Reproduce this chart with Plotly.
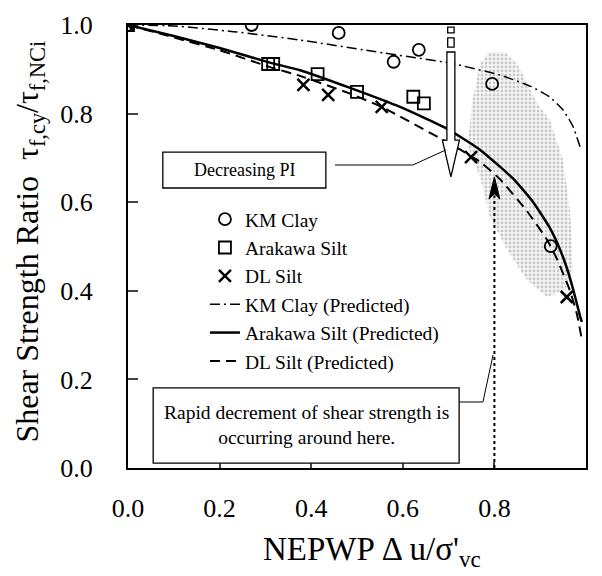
import plotly.graph_objects as go

# ---- data ----
km_x = [0.0, 0.27, 0.46, 0.58, 0.635, 0.795, 0.923]
km_y = [1.0, 1.0, 0.982, 0.917, 0.944, 0.867, 0.501]

ar_x = [0.0, 0.306, 0.317, 0.414, 0.50, 0.623, 0.646]
ar_y = [1.0, 0.912, 0.912, 0.889, 0.849, 0.838, 0.823]

dl_x = [0.0, 0.383, 0.437, 0.554, 0.749, 0.958]
dl_y = [1.0, 0.865, 0.842, 0.815, 0.702, 0.386]

km_pred_x = [0.0, 0.1, 0.23, 0.376, 0.557, 0.703, 0.812, 0.878, 0.92, 0.95, 0.972, 0.987]
km_pred_y = [1.0, 0.998, 0.985, 0.966, 0.937, 0.914, 0.887, 0.862, 0.838, 0.808, 0.77, 0.725]

ar_pred_x = [0.0, 0.1, 0.2, 0.31, 0.376, 0.485, 0.594, 0.696, 0.769, 0.841, 0.884, 0.921, 0.943, 0.958, 0.972, 0.987, 0.991]
ar_pred_y = [1.0, 0.975, 0.948, 0.915, 0.898, 0.858, 0.815, 0.766, 0.718, 0.653, 0.601, 0.542, 0.494, 0.452, 0.403, 0.343, 0.33]

dl_pred_x = [0.0, 0.1, 0.2, 0.31, 0.376, 0.485, 0.554, 0.696, 0.769, 0.812, 0.871, 0.915, 0.937, 0.965, 0.98, 0.991]
dl_pred_y = [1.0, 0.972, 0.943, 0.905, 0.885, 0.845, 0.815, 0.736, 0.691, 0.652, 0.580, 0.515, 0.471, 0.400, 0.348, 0.29]

zone_x = [0.790, 0.769, 0.751, 0.742, 0.769, 0.790, 0.828, 0.871, 0.915, 0.954, 0.972, 0.965, 0.950, 0.921, 0.893, 0.849, 0.823, 0.790]
zone_y = [0.939, 0.914, 0.824, 0.725, 0.657, 0.567, 0.492, 0.424, 0.386, 0.402, 0.447, 0.582, 0.695, 0.786, 0.824, 0.914, 0.939, 0.939]

x_ticks = [0.0, 0.2, 0.4, 0.6, 0.8, 1.0]
y_ticks = [0.0, 0.2, 0.4, 0.6, 0.8, 1.0]

FONT = "Liberation Serif"

fig = go.Figure()

fig.add_trace(go.Scatter(x=zone_x, y=zone_y, mode="lines", fill="toself",
                         line=dict(width=0, color="rgba(0,0,0,0)"),
                         fillcolor="rgba(0,0,0,0)",
                         fillpattern=dict(shape=".", size=4, solidity=0.4,
                                          fgcolor="#9a9a9a", bgcolor="rgba(240,240,240,0.5)"),
                         showlegend=False, hoverinfo="skip"))

fig.add_trace(go.Scatter(x=km_x, y=km_y, mode="markers", name="KM Clay", legendgroup="a",
                         marker=dict(symbol="circle-open", size=12, color="black", line=dict(width=1.8))))
fig.add_trace(go.Scatter(x=ar_x, y=ar_y, mode="markers", name="Arakawa Silt", legendgroup="b",
                         marker=dict(symbol="square-open", size=12, color="black", line=dict(width=1.8))))
fig.add_trace(go.Scatter(x=dl_x, y=dl_y, mode="markers", name="DL Silt", legendgroup="c",
                         marker=dict(symbol="x-thin-open", size=12, color="black", line=dict(width=2.5))))
fig.add_trace(go.Scatter(x=km_pred_x, y=km_pred_y, mode="lines", name="KM Clay (Predicted)", legendgroup="d",
                         line=dict(color="black", width=1.5, dash="10px,4px,2px,4px", shape="spline", smoothing=0.5)))
fig.add_trace(go.Scatter(x=ar_pred_x, y=ar_pred_y, mode="lines", name="Arakawa Silt (Predicted)", legendgroup="e",
                         line=dict(color="black", width=2.5, shape="spline", smoothing=0.5)))
fig.add_trace(go.Scatter(x=dl_pred_x, y=dl_pred_y, mode="lines", name="DL Silt (Predicted)", legendgroup="f",
                         line=dict(color="black", width=2, dash="10px,6px", shape="spline", smoothing=0.5)))

shapes = []
# open arrow (Decreasing PI)
ax0 = 0.705
sw, hw = 0.0087, 0.0186
shapes.append(dict(type="path", xref="x", yref="y",
                   path=f"M {ax0-sw},0.939 L {ax0-sw},0.740 L {ax0-hw},0.740 L {ax0},0.657 L {ax0+hw},0.740 L {ax0+sw},0.740 L {ax0+sw},0.939 Z",
                   fillcolor="white", line=dict(color="black", width=1.3)))
shapes.append(dict(type="rect", xref="x", yref="y", x0=ax0-0.007, x1=ax0+0.007, y0=0.950, y1=0.971,
                   fillcolor="white", line=dict(color="black", width=1.3)))
shapes.append(dict(type="rect", xref="x", yref="y", x0=ax0-0.007, x1=ax0+0.007, y0=0.982, y1=0.995,
                   fillcolor="white", line=dict(color="black", width=1.3)))
# dotted line + filled arrow at 0.8
shapes.append(dict(type="line", xref="x", yref="y", x0=0.8, x1=0.8, y0=0.0, y1=0.615,
                   line=dict(color="black", width=2, dash="dot")))
shapes.append(dict(type="path", xref="x", yref="y",
                   path="M 0.8,0.657 L 0.788,0.607 L 0.8,0.619 L 0.812,0.607 Z",
                   fillcolor="black", line=dict(color="black", width=1)))
# Decreasing PI box + connector
shapes.append(dict(type="rect", xref="x", yref="y", x0=0.076, x1=0.432, y0=0.632, y1=0.713,
                   fillcolor="white", line=dict(color="black", width=1.3)))
shapes.append(dict(type="path", xref="x", yref="y", path="M 0.452,0.684 L 0.622,0.684 L 0.694,0.718",
                   line=dict(color="black", width=1)))
# Rapid decrement box + connector
shapes.append(dict(type="rect", xref="x", yref="y", x0=0.055, x1=0.723, y0=0.011, y1=0.181,
                   fillcolor="white", line=dict(color="black", width=1.3)))
shapes.append(dict(type="path", xref="x", yref="y", path="M 0.723,0.149 L 0.775,0.149 L 0.797,0.255",
                   line=dict(color="black", width=1)))

annotations = [
    dict(x=0.254, y=0.672, xref="x", yref="y", text="Decreasing PI", showarrow=False,
         font=dict(family=FONT, size=18, color="black")),
    dict(x=0.389, y=0.096, xref="x", yref="y",
         text="Rapid decrement of shear strength is<br>occurring around here.", showarrow=False,
         font=dict(family=FONT, size=19.5, color="black")),
    dict(x=0.533, y=-0.188, xref="paper", yref="paper", xanchor="center", yanchor="middle",
         text="NEPWP \u0394 u/\u03c3'<sub>vc</sub>", showarrow=False,
         font=dict(family=FONT, size=33, color="black")),
    dict(x=-0.215, y=0.51, xref="paper", yref="paper", xanchor="center", yanchor="middle", textangle=-90,
         text="Shear Strength Ratio\u00a0\u00a0\u03c4<sub>f,cy</sub>/\u03c4<sub>f,NCi</sub>", showarrow=False,
         font=dict(family=FONT, size=32, color="black")),
]

fig.update_layout(
    width=602, height=576,
    margin=dict(l=128, r=16, t=25, b=108),
    paper_bgcolor="white", plot_bgcolor="white",
    font=dict(family=FONT, color="black"),
    shapes=shapes, annotations=annotations,
    showlegend=True,
    legend=dict(x=0.168, y=0.605, xanchor="left", yanchor="top", bgcolor="rgba(0,0,0,0)",
                traceorder="grouped", tracegroupgap=0,
                font=dict(family=FONT, size=19.5, color="black")),
    xaxis=dict(range=[0, 1.0], tickvals=x_ticks, tickformat=".1f", ticks="inside", ticklen=6,
               tickwidth=1.5, showline=True, linewidth=2, linecolor="black", mirror=True,
               showgrid=False, zeroline=False, ticklabelstandoff=16,
               tickfont=dict(family=FONT, size=26, color="black")),
    yaxis=dict(range=[0, 1.0], tickvals=y_ticks, tickformat=".1f", ticks="inside", ticklen=10,
               tickwidth=1.5, showline=True, linewidth=2, linecolor="black", mirror=True,
               showgrid=False, zeroline=False, ticklabelstandoff=28,
               tickfont=dict(family=FONT, size=26, color="black")),
)

fig.write_html("out.html")
